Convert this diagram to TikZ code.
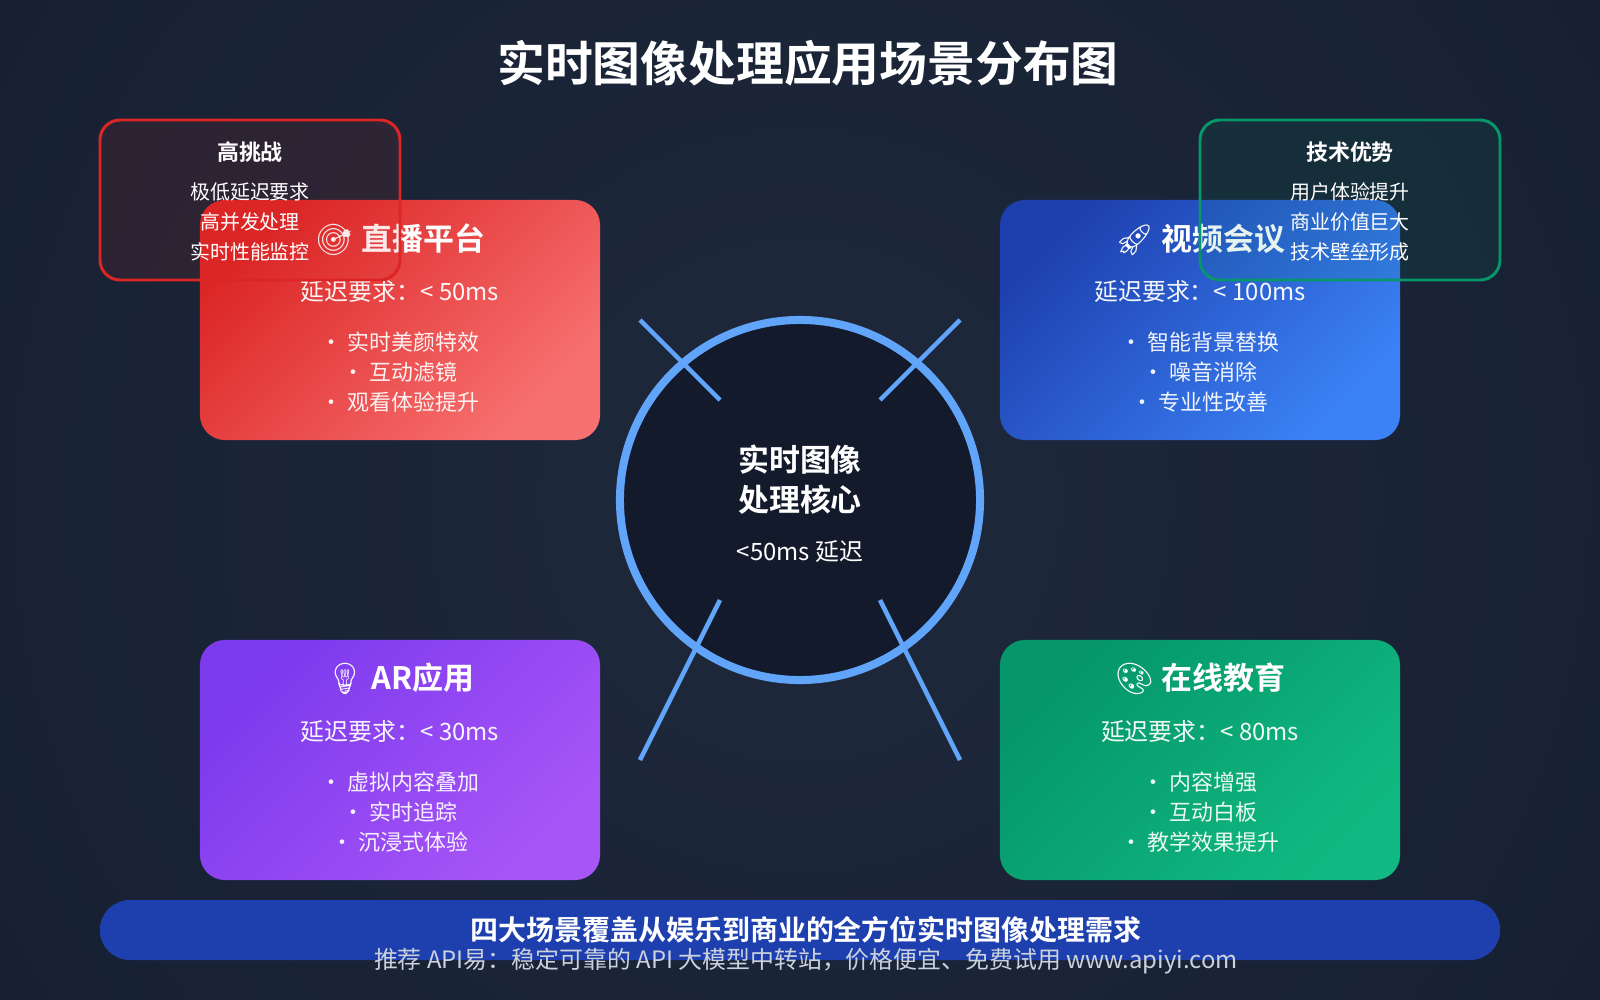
\documentclass[tikz,border=0pt]{standalone}
\usepackage{fontspec}
\usepackage{xcolor}
\setmainfont{Noto Sans CJK SC}[BoldFont={Noto Sans CJK SC Bold}]
\newfontfamily\emoji{Noto Emoji}
\newcommand\fs[1]{\fontsize{#1}{1.3\dimexpr#1\relax}\selectfont}

\definecolor{bginner}{HTML}{1E293B}
\definecolor{bgouter}{HTML}{0F172A}
\definecolor{livea}{HTML}{DC2626}
\definecolor{liveb}{HTML}{F87171}
\definecolor{videoa}{HTML}{1E40AF}
\definecolor{videob}{HTML}{3B82F6}
\definecolor{ara}{HTML}{7C3AED}
\definecolor{arb}{HTML}{A855F7}
\definecolor{edua}{HTML}{059669}
\definecolor{edub}{HTML}{10B981}
\definecolor{corering}{HTML}{60A5FA}
\definecolor{corefill}{HTML}{131A2C}
\definecolor{barblue}{HTML}{1E40AF}
\definecolor{footgray}{HTML}{CBD2DC}

\begin{document}
\begin{tikzpicture}[x=0.025cm, y=-0.025cm,
  card/.style 2 args={minimum width=10cm, minimum height=6cm, inner sep=0pt,
    rounded corners=0.625cm, top color=#1, bottom color=#2, shading angle=45},
  cardtitle/.style={text=white, font=\bfseries\fs{22pt}},
  latency/.style={text=white, text opacity=0.95, font=\fs{17pt}},
  items/.style={text=white, text opacity=0.92, align=center,
    font=\fontsize{15.6pt}{21.3pt}\selectfont},
  notebox/.style={line width=2.1pt, rounded corners=0.5cm, fill opacity=0.1},
  notetitle/.style={text=white, font=\bfseries\fs{15.6pt}},
  notelines/.style={text=white, align=center,
    font=\fontsize{14.2pt}{21.3pt}\selectfont},
  spoke/.style={draw=corering, line width=3.2pt}]
  \useasboundingbox (0,0) rectangle (1600,1000);

  % Background
  \begin{scope}
    \clip (0,0) rectangle (1600,1000);
    \shade[inner color=bginner, outer color=bgouter] (800,500) circle (1900);
  \end{scope}

  % Title
  \node[text=white, font=\bfseries\fs{34pt}] (title) at (808,63) {实时图像处理应用场景分布图};

  % Core circle and spokes
  \node[circle, draw=corering, fill=corefill, line width=5.7pt,
    minimum size=9cm, inner sep=0pt] (core) at (800,500) {};
  \coordinate (tl out) at (640,320);
  \coordinate (tl in) at (720,400);
  \coordinate (tr out) at (960,320);
  \coordinate (tr in) at (880,400);
  \coordinate (bl in) at (720,600);
  \coordinate (bl out) at (640,760);
  \coordinate (br in) at (880,600);
  \coordinate (br out) at (960,760);
  \draw[spoke] (tl out) -- (tl in);
  \draw[spoke] (tr out) -- (tr in);
  \draw[spoke] (bl in) -- (bl out);
  \draw[spoke] (br in) -- (br out);
  \node[text=white, align=center, font=\bfseries\fontsize{22pt}{28.5pt}\selectfont]
    (core title) at (800,480) {实时图像\\处理核心};
  \node[text=white, font=\fs{17pt}] (core delay) at (800,552) {<50ms 延迟};

  % Live streaming
  \node[card={livea}{liveb}] (live) at (400,320) {};
  \node[cardtitle] (live title) at (400,240) {{\emoji 🎯} 直播平台};
  \node[latency] (live lat) at (400,292) {延迟要求：< 50ms};
  \node[items] (live list) at (400,372) {• 实时美颜特效\\• 互动滤镜\\• 观看体验提升};

  % Video meeting
  \node[card={videoa}{videob}] (video) at (1200,320) {};
  \node[cardtitle] (video title) at (1200,240) {{\emoji 🚀} 视频会议};
  \node[latency] (video lat) at (1200,292) {延迟要求：< 100ms};
  \node[items] (video list) at (1200,372) {• 智能背景替换\\• 噪音消除\\• 专业性改善};

  % AR
  \node[card={ara}{arb}] (ar) at (400,760) {};
  \node[cardtitle] (ar title) at (400,679) {{\emoji 💡} AR应用};
  \node[latency] (ar lat) at (400,732) {延迟要求：< 30ms};
  \node[items] (ar list) at (400,812) {• 虚拟内容叠加\\• 实时追踪\\• 沉浸式体验};

  % Online education
  \node[card={edua}{edub}] (edu) at (1200,760) {};
  \node[cardtitle] (edu title) at (1200,679) {{\emoji 🎨} 在线教育};
  \node[latency] (edu lat) at (1200,732) {延迟要求：< 80ms};
  \node[items] (edu list) at (1200,812) {• 内容增强\\• 互动白板\\• 教学效果提升};

  % Note boxes
  \draw[notebox, draw=livea, fill=livea] (100,120) rectangle (400,280);
  \node[notetitle] (hard title) at (250,152) {高挑战};
  \node[notelines] (hard list) at (250,222) {极低延迟要求\\高并发处理\\实时性能监控};
  \draw[notebox, draw=edua, fill=edua] (1200,120) rectangle (1500,280);
  \node[notetitle] (gain title) at (1350,152) {技术优势};
  \node[notelines] (gain list) at (1350,222) {用户体验提升\\商业价值巨大\\技术壁垒形成};

  % Bottom bar
  \node[fill=barblue, rounded corners=0.75cm, minimum width=35cm,
    minimum height=1.5cm, inner sep=0pt] (bar) at (800,930) {};
  \node[text=white, font=\bfseries\fs{19.9pt}] (bar text) at (806,930)
    {四大场景覆盖从娱乐到商业的全方位实时图像处理需求};
  \node[text=footgray, font=\fs{17pt}] (footer) at (806,961)
    {推荐 API易：稳定可靠的 API 大模型中转站，价格便宜、免费试用 www.apiyi.com};
\end{tikzpicture}
\end{document}
